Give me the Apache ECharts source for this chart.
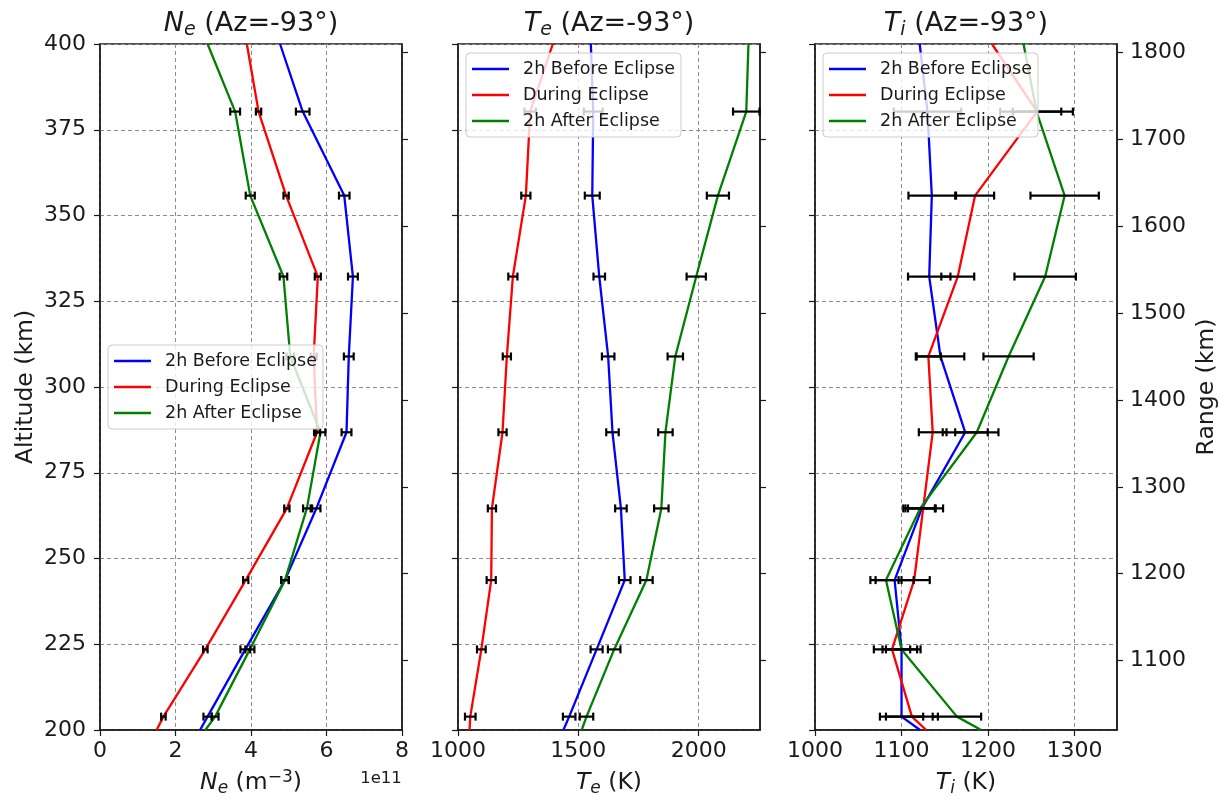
<!DOCTYPE html>
<html>
<head>
<meta charset="utf-8">
<title>Eclipse profiles</title>
<script src="https://cdn.jsdelivr.net/npm/echarts@6/dist/echarts.min.js"></script>
<style>
html, body { margin: 0; padding: 0; background: #fff; }
#main { width: 1229px; height: 805px; }
</style>
</head>
<body>
<div id="main"></div>
<script>
// altitude (km) of every profile point; first and last are where the curves leave the frame
var altitude = [200, 203.9, 223.5, 243.7, 264.6, 286.8, 308.9, 332.2, 355.8, 380.3, 400];
var seriesNames = ['2h Before Eclipse', 'During Eclipse', '2h After Eclipse'];

// Ne in units of 1e11 m^-3
var neBefore = [2.65, 2.85, 3.85, 4.90, 5.73, 6.53, 6.59, 6.70, 6.47, 5.37, 4.77];
var neDuring = [1.50, 1.68, 2.79, 3.86, 4.95, 5.75, 5.66, 5.77, 4.93, 4.20, 3.89];
var neAfter  = [2.79, 3.05, 3.97, 4.90, 5.48, 5.84, 5.04, 4.86, 3.98, 3.58, 2.85];
// half widths of the error bars, measured points only (altitude[1..9])
var neBeforeErr = [0.11, 0.13, 0.10, 0.11, 0.13, 0.13, 0.13, 0.14, 0.18];
var neDuringErr = [0.06, 0.06, 0.07, 0.07, 0.08, 0.08, 0.08, 0.07, 0.07];
var neAfterErr  = [0.09, 0.12, 0.10, 0.10, 0.13, 0.10, 0.10, 0.12, 0.13];

// Te (K)
var teBefore = [1438, 1462, 1576, 1693, 1677, 1642, 1624, 1587, 1558, 1562, 1552];
var teDuring = [1048, 1051, 1097, 1138, 1141, 1185, 1203, 1228, 1282, 1300, 1394];
var teAfter  = [1514, 1534, 1649, 1783, 1845, 1862, 1903, 1990, 2080, 2198, 2207];
var teBeforeErr = [26, 25, 24, 24, 26, 26, 24, 31, 39];
var teDuringErr = [22, 18, 19, 17, 17, 17, 19, 19, 24];
var teAfterErr  = [28, 26, 26, 30, 30, 32, 40, 46, 55];

// Ti (K)
var tiBefore = [1121.5, 1100, 1100, 1092, 1123.5, 1173.6, 1145, 1132, 1135, 1130, 1121];
var tiDuring = [1128.5, 1112, 1089, 1114.6, 1125, 1136, 1131, 1165, 1185, 1256.6, 1204.5];
var tiAfter  = [1192, 1164, 1100, 1082, 1121.5, 1187, 1223.7, 1266, 1288.5, 1256, 1241];
var tiBeforeErr = [25, 22, 22, 16, 26, 27.5, 24.5, 27, 39];
var tiDuringErr = [30, 21, 18, 23, 16, 14.5, 19, 22, 28];
var tiAfterErr  = [28, 18, 18, 17, 25, 29, 35.5, 39.5, 42];

// tick labels
var rangeTicks = [1100, 1200, 1300, 1400, 1500, 1600, 1700, 1800];
var teTicks = [1000, 1500, 2000];
var tiTicks = [1000, 1100, 1200, 1300];

var colors = ['#0000ff', '#ff0000', '#008000'];
var font = 'DejaVu Sans';
var ink = '#1a1a1a';

var myChart = echarts.init(document.getElementById('main'));

function pairs(vals) {
	var out = [];
	for (var i = 0; i < vals.length; i++) out.push([vals[i], altitude[i]]);
	return out;
}
function bars(vals, errs) {
	var out = [];
	for (var i = 0; i < errs.length; i++) {
		out.push([vals[i + 1] - errs[i], vals[i + 1] + errs[i], altitude[i + 1]]);
	}
	return out;
}
function renderErr(params, api) {
	var a = api.coord([api.value(0), api.value(2)]);
	var b = api.coord([api.value(1), api.value(2)]);
	var h = 4;
	var st = { stroke: '#000', lineWidth: 2.2 };
	return {
		type: 'group',
		children: [
			{ type: 'line', shape: { x1: a[0], y1: a[1], x2: b[0], y2: b[1] }, style: st },
			{ type: 'line', shape: { x1: a[0], y1: a[1] - h, x2: a[0], y2: a[1] + h }, style: st },
			{ type: 'line', shape: { x1: b[0], y1: b[1] - h, x2: b[0], y2: b[1] + h }, style: st }
		]
	};
}
function plain(v) { return String(v); }

var panels = [
	{ vals: [neBefore, neDuring, neAfter], errs: [neBeforeErr, neDuringErr, neAfterErr] },
	{ vals: [teBefore, teDuring, teAfter], errs: [teBeforeErr, teDuringErr, teAfterErr] },
	{ vals: [tiBefore, tiDuring, tiAfter], errs: [tiBeforeErr, tiDuringErr, tiAfterErr] }
];

var gridLeft = [100, 458, 815];
var gridW = 302;
var axisLine = { show: true, lineStyle: { color: ink, width: 1.5 } };
var tick = { show: true, length: 6, lineStyle: { color: ink, width: 1.2 } };
var split = { show: true, lineStyle: { color: '#8c8c8c', type: [4, 3], width: 1 } };
var tickFont = { color: ink, fontFamily: font, fontSize: 22, formatter: plain };
var nameSize = 23.5;
var subRich = {
	i: { fontStyle: 'italic', fontSize: nameSize, fontFamily: font, color: ink },
	s: { fontStyle: 'italic', fontSize: 17, fontFamily: font, color: ink, padding: [11, 0, 0, 0] },
	p: { fontSize: 17, fontFamily: font, color: ink, padding: [0, 0, 11, 0] }
};
var nameStyle = { color: ink, fontFamily: font, fontSize: nameSize, rich: subRich };

var grids = [], xAxes = [], yAxes = [], series = [], legends = [];
for (var g = 0; g < 3; g++) {
	grids.push({ left: gridLeft[g], width: gridW, top: 44, height: 686, show: true,
		borderColor: ink, borderWidth: 1.5, backgroundColor: 'transparent' });
}

xAxes.push({ gridIndex: 0, type: 'value', min: 0, max: 8, interval: 2,
	axisLine: axisLine, axisTick: tick, splitLine: split,
	axisLabel: Object.assign({ margin: 10 }, tickFont),
	name: '{i|N}{s|e} (m{p|−3})', nameLocation: 'middle', nameGap: 39, nameTextStyle: nameStyle });
xAxes.push({ gridIndex: 1, type: 'value', min: 1000, max: 2255, interval: 500,
	axisLine: axisLine, splitLine: split,
	axisTick: Object.assign({ customValues: teTicks }, tick),
	axisLabel: Object.assign({ margin: 10, customValues: teTicks }, tickFont),
	name: '{i|T}{s|e} (K)', nameLocation: 'middle', nameGap: 39, nameTextStyle: nameStyle });
xAxes.push({ gridIndex: 2, type: 'value', min: 1000, max: 1349, interval: 100,
	axisLine: axisLine, splitLine: split,
	axisTick: Object.assign({ customValues: tiTicks }, tick),
	axisLabel: Object.assign({ margin: 10, customValues: tiTicks }, tickFont),
	name: '{i|T}{s|i} (K)', nameLocation: 'middle', nameGap: 39, nameTextStyle: nameStyle });

// altitude axes (left)
for (var g = 0; g < 3; g++) {
	yAxes.push({ gridIndex: g, type: 'value', position: 'left', min: 200, max: 400, interval: 25,
		axisLine: axisLine, axisTick: tick, splitLine: split,
		axisLabel: Object.assign({ show: g === 0, margin: 14 }, tickFont),
		name: g === 0 ? 'Altitude (km)' : '', nameLocation: 'middle', nameRotate: 90, nameGap: 62,
		nameTextStyle: { color: ink, fontFamily: font, fontSize: nameSize } });
}
// range axes (right)
for (var g = 0; g < 3; g++) {
	yAxes.push({ gridIndex: g, type: 'value', position: 'right', min: 1020, max: 1810,
		axisLine: axisLine, splitLine: { show: false },
		axisTick: Object.assign({ customValues: rangeTicks }, tick),
		axisLabel: Object.assign({ show: g === 2, margin: 13, customValues: rangeTicks }, tickFont),
		name: g === 2 ? 'Range (km)' : '', nameLocation: 'middle', nameRotate: 90, nameGap: 78,
		nameTextStyle: { color: ink, fontFamily: font, fontSize: nameSize } });
}

for (var g = 0; g < 3; g++) {
	for (var k = 0; k < 3; k++) {
		series.push({ name: seriesNames[k], type: 'line', xAxisIndex: g, yAxisIndex: g,
			data: pairs(panels[g].vals[k]), symbol: 'none', color: colors[k],
			lineStyle: { color: colors[k], width: 2.3 }, z: 2, animation: false });
	}
	for (var k = 0; k < 3; k++) {
		series.push({ type: 'custom', xAxisIndex: g, yAxisIndex: g,
			data: bars(panels[g].vals[k], panels[g].errs[k]),
			encode: { x: [0, 1], y: 2 }, renderItem: renderErr, z: 3, animation: false });
	}
}

var legendPos = [[108, 345], [466, 53], [823, 53]];
for (var g = 0; g < 3; g++) {
	legends.push({ orient: 'vertical', left: legendPos[g][0], top: legendPos[g][1],
		data: seriesNames, icon: 'rect', itemWidth: 37, itemHeight: 2.5, itemGap: 8,
		padding: [7, 6, 7, 6], backgroundColor: 'rgba(255,255,255,0.8)',
		borderColor: '#cccccc', borderWidth: 1, borderRadius: 4, selectedMode: false,
		textStyle: { color: ink, fontFamily: font, fontSize: 17.5, padding: [0, 0, 0, 9] } });
}

var titleRich = {
	i: { fontStyle: 'italic', fontSize: 27, fontFamily: font, fill: ink },
	s: { fontStyle: 'italic', fontSize: 19, fontFamily: font, fill: ink, padding: [12, 0, 0, 0] },
	t: { fontSize: 27, fontFamily: font, fill: ink }
};
var titles = ['{i|N}{s|e}{t| (Az=-93°)}', '{i|T}{s|e}{t| (Az=-93°)}', '{i|T}{s|i}{t| (Az=-93°)}'];
var graphics = [];
for (var g = 0; g < 3; g++) {
	graphics.push({ type: 'text', x: gridLeft[g] + gridW / 2, y: 24,
		style: { text: titles[g], rich: titleRich, align: 'center', verticalAlign: 'middle',
			fontFamily: font, fontSize: 27, fill: ink } });
}
graphics.push({ type: 'text', x: 381, y: 779,
	style: { text: '1e11', align: 'center', verticalAlign: 'middle', fontFamily: font, fontSize: 16.5, fill: ink } });

var option = {
	backgroundColor: '#ffffff',
	animation: false,
	grid: grids,
	xAxis: xAxes,
	yAxis: yAxes,
	legend: legends,
	series: series,
	graphic: graphics
};
myChart.setOption(option);
</script>
</body>
</html>
